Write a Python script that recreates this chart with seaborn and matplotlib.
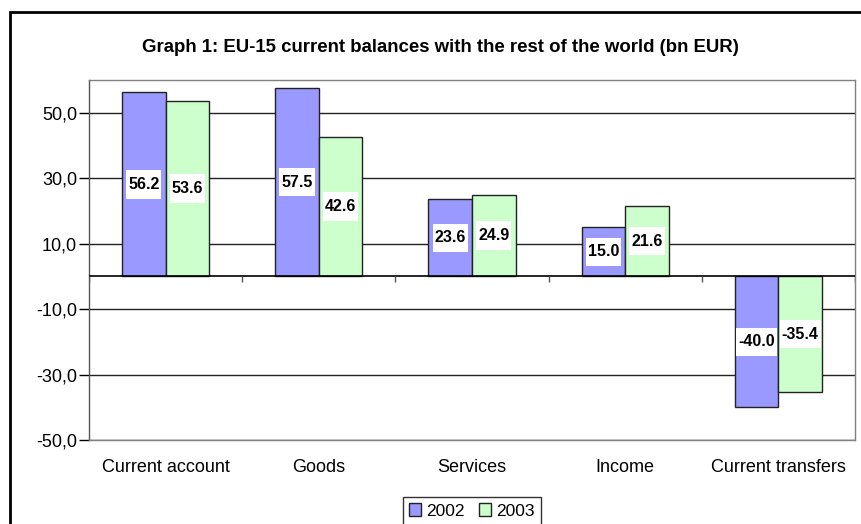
import matplotlib
matplotlib.use("Agg")
import matplotlib.pyplot as plt
import seaborn as sns
import pandas as pd
from matplotlib.patches import Rectangle
from matplotlib.path import Path
from matplotlib.ticker import FuncFormatter

categories = ["Current account", "Goods", "Services", "Income", "Current transfers"]
years = ["2002", "2003"]
values_2002 = [56.2, 57.5, 23.6, 15.0, -40.0]
values_2003 = [53.6, 42.6, 24.9, 21.6, -35.4]
yticks = [50, 30, 10, -10, -30, -50]
title = "Graph 1: EU-15 current balances with the rest of the world (bn EUR)"
colors = ["#9999FF", "#CCFFCC"]

df = pd.DataFrame({
    "category": categories * 2,
    "year": [years[0]] * len(categories) + [years[1]] * len(categories),
    "value": values_2002 + values_2003,
})

sns.set_theme(style="white")
plt.rcParams["font.family"] = ["Liberation Sans", "DejaVu Sans"]
plt.rcParams["text.color"] = "black"
plt.rcParams["xtick.color"] = "black"
plt.rcParams["ytick.color"] = "black"


def label_box(x0, y0, width, height, mutation_size):
    px = 0.12 * mutation_size
    py = 0.42 * mutation_size
    x1, y1 = x0 - px, y0 - py
    x2, y2 = x0 + width + px, y0 + height + py
    return Path([(x1, y1), (x2, y1), (x2, y2), (x1, y2), (x1, y1)], closed=True)


fig = plt.figure(figsize=(8.61, 5.24), dpi=100)
ax = fig.add_axes([89 / 861, 84 / 524, 766 / 861, 360 / 524])

sns.barplot(data=df, x="category", y="value", hue="year", palette=colors,
            width=0.57, edgecolor="#222222", linewidth=1.0, ax=ax,
            saturation=1, errorbar=None, legend=True, zorder=3)

ax.set_ylim(-50, 60)
ax.set_xlim(-0.5, len(categories) - 0.5)
ax.set_yticks(yticks)
ax.yaxis.set_major_formatter(FuncFormatter(lambda v, p: f"{v:.1f}".replace(".", ",")))
ax.tick_params(axis="y", direction="out", length=7, width=1, color="black",
               labelsize=13, pad=1.5, left=True, labelcolor="black")
ax.tick_params(axis="x", length=0, labelsize=13, pad=14, labelcolor="black")
ax.set_xlabel("")
ax.set_ylabel("")
for yv in yticks:
    ax.axhline(yv, color="#222222", lw=1, zorder=1)
ax.axhline(0, color="black", lw=1.2, zorder=4)
ax.vlines([i + 0.5 for i in range(-1, len(categories))], -1.6, 0, color="#555555", lw=1, zorder=4)
for s in ax.spines.values():
    s.set_color("#808080")
    s.set_linewidth(1)
ax.spines["left"].set_color("#555555")

for cont in ax.containers:
    for bar, val in zip(cont, cont.datavalues):
        ax.text(bar.get_x() + bar.get_width() / 2, val / 2, f"{val:.1f}",
                ha="center", va="center", fontsize=11.5, fontweight="bold", color="black", zorder=6,
                bbox=dict(boxstyle=label_box, fc="white", ec="none"))

leg = ax.legend(loc="upper center", bbox_to_anchor=(0.5, -0.135), ncol=2, frameon=True,
                fontsize=12.5, handlelength=0.7, handleheight=0.7, handletextpad=0.3,
                columnspacing=0.8, borderpad=0.35, fancybox=False, edgecolor="black")
leg.get_frame().set_linewidth(1)
for h in leg.legend_handles:
    h.set_edgecolor("#222222")

fig.text(440 / 861, 1 - 47 / 524, title, ha="center", va="center", fontsize=13.4, fontweight="bold",
         color="black")
fig.patches.append(Rectangle((10 / 861, -0.05), 1.1, 1 - 12 / 524 + 0.05, transform=fig.transFigure,
                             fill=False, ec="black", lw=2))

fig.savefig("out.png", dpi=100)
